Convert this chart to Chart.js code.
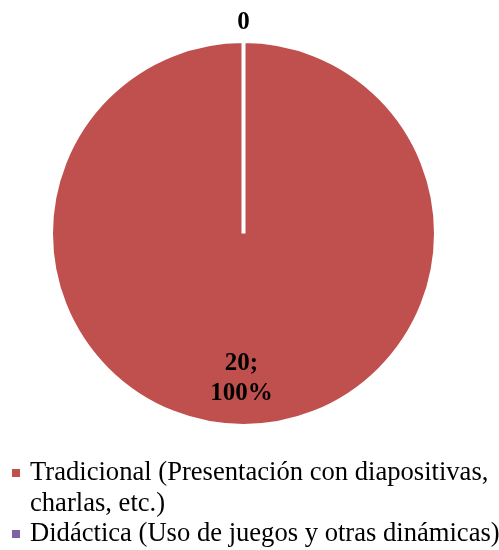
<!DOCTYPE html>
<html>
<head>
<meta charset="utf-8">
<script src="https://cdn.jsdelivr.net/npm/chart.js@4/dist/chart.umd.min.js"></script>
<style>
  body { margin: 0; background: #fff; }
  #wrap { position: relative; width: 499px; height: 550px; overflow: hidden; }
  #legend {
    position: absolute; left: 12px; top: 456px; width: 490px;
    font-family: "Liberation Serif", "Times New Roman", serif;
    font-size: 26.6px; line-height: 30.5px; color: #000;
  }
  .item { position: relative; padding-left: 18px; }
  .box { position: absolute; left: 0; top: 13px; width: 8px; height: 8px; }
</style>
</head>
<body>
<div id="wrap">
  <canvas id="pie" width="499" height="550"></canvas>
  <div id="legend"></div>
</div>
<script>
const categories = [
  'Tradicional (Presentación con diapositivas, charlas, etc.)',
  'Didáctica (Uso de juegos y otras dinámicas)'
];
const counts = [20, 0];
const colors = ['#C0504D', '#8064A2'];

const total = counts.reduce((a, b) => a + b, 0);

// Data labels: the empty slice gets its count above the pie,
// the full slice gets "count; percent" inside
const sliceLabels = {
  id: 'sliceLabels',
  afterDatasetsDraw(chart) {
    const ctx = chart.ctx;
    const arcs = chart.getDatasetMeta(0).data;
    ctx.save();
    ctx.fillStyle = '#000';
    ctx.font = 'bold 25px "Liberation Serif", "Times New Roman", serif';
    ctx.textAlign = 'center';
    ctx.textBaseline = 'middle';
    arcs.forEach((arc, i) => {
      const v = counts[i];
      const mid = (arc.startAngle + arc.endAngle) / 2;
      if (v === 0) {
        const r = arc.outerRadius + 18;
        ctx.fillText(String(v), arc.x + Math.cos(mid) * r, arc.y + Math.sin(mid) * r);
      } else {
        const pct = Math.round(v / total * 100) + '%';
        const r = arc.outerRadius * 0.75;
        const cx = arc.x + Math.cos(mid) * r - 2;
        const cy = arc.y + Math.sin(mid) * r + 1;
        ctx.fillText(v + ';', cx, cy - 15);
        ctx.fillText(pct, cx, cy + 15);
      }
    });
    ctx.restore();
  }
};

new Chart(document.getElementById('pie'), {
  type: 'pie',
  data: {
    labels: categories,
    datasets: [{
      data: counts,
      backgroundColor: colors,
      borderColor: '#fff',
      borderWidth: 4
    }]
  },
  options: {
    responsive: false,
    animation: false,
    layout: { padding: { left: 49, right: 61, top: 38, bottom: 121 } },
    plugins: {
      legend: { display: false },
      tooltip: { enabled: false }
    }
  },
  plugins: [sliceLabels]
});

// Legend below the pie, wrapping long names
const legendEl = document.getElementById('legend');
categories.forEach((name, i) => {
  const item = document.createElement('div');
  item.className = 'item';
  item.innerHTML = '<span class="box" style="background:' + colors[i] + '"></span>' + name;
  legendEl.appendChild(item);
});
</script>
</body>
</html>
